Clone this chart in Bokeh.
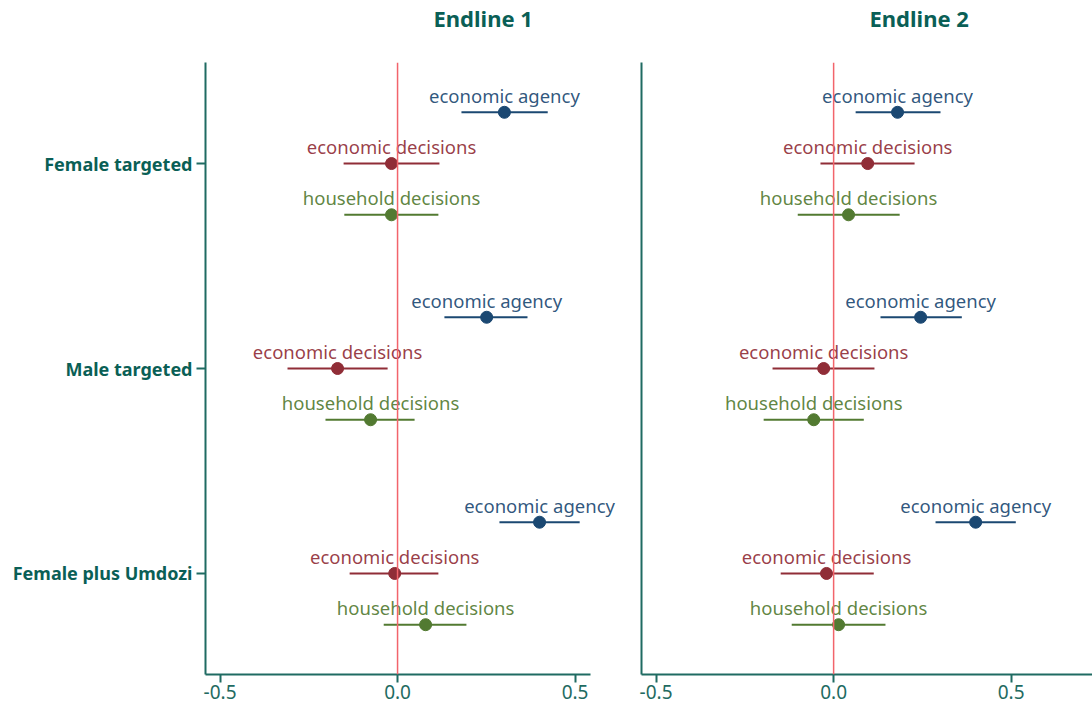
from bokeh.plotting import figure
from bokeh.layouts import row
from bokeh.models import Span, FixedTicker, ColumnDataSource, Title
from bokeh.core.properties import value
from bokeh.embed import file_html
from bokeh.resources import INLINE

panels = ["Endline 1", "Endline 2"]
groups = ["Female targeted", "Male targeted", "Female plus Umdozi"]
outcomes = ["economic agency", "economic decisions", "household decisions"]
colors = ["#1b4872", "#902d37", "#527a31"]

# point estimates [group][outcome]
est_e1 = [[0.301, -0.017, -0.017], [0.251, -0.169, -0.076], [0.400, -0.008, 0.079]]
lo_e1 = [[0.180, -0.152, -0.150], [0.132, -0.310, -0.203], [0.287, -0.135, -0.039]]
hi_e1 = [[0.423, 0.118, 0.115], [0.366, -0.028, 0.048], [0.513, 0.115, 0.194]]

est_e2 = [[0.180, 0.096, 0.042], [0.245, -0.028, -0.056], [0.400, -0.020, 0.014]]
lo_e2 = [[0.062, -0.037, -0.101], [0.132, -0.172, -0.197], [0.287, -0.149, -0.118]]
hi_e2 = [[0.301, 0.228, 0.186], [0.361, 0.115, 0.085], [0.513, 0.113, 0.146]]

xticks = [-0.5, 0.0, 0.5]
xtick_labels = ["-0.5", "0.0", "0.5"]

TEAL = "#0a5f56"
AXIS = "#1f6b62"
FONT = "Noto Sans"

group_pos = [3, 2, 1]
offsets = [0.25, 0.0, -0.25]

X_START = -0.541


def make(title, est, lo, hi, first, width, x_end, axis_end, mbl, mbr):
    p = figure(width=width, height=710, output_backend="svg", toolbar_location=None,
               x_range=(X_START, x_end), y_range=(0.507, 3.493), title=None,
               min_border_left=mbl, min_border_right=mbr, min_border_top=62,
               min_border_bottom=36)
    p.outline_line_color = None
    p.grid.visible = False
    p.background_fill_color = "white"
    p.border_fill_color = "white"

    spacer = Title(text=" ", text_font=FONT, text_font_size="10px", standoff=14,
                   text_color="white")
    p.add_layout(spacer, "above")
    t = Title(text=title, align="left", offset=228, text_font=FONT, text_font_size="22px",
              text_font_style="bold", text_color=TEAL, standoff=0)
    p.add_layout(t, "above")

    p.add_layout(Span(location=0, dimension="height", line_color="#f2646b", line_width=1.5))

    for k, oc in enumerate(outcomes):
        ys = [group_pos[g] + offsets[k] for g in range(3)]
        src = ColumnDataSource(dict(
            y=ys,
            est=[est[g][k] for g in range(3)],
            lo=[lo[g][k] for g in range(3)],
            hi=[hi[g][k] for g in range(3)],
            lab=[oc] * 3,
        ))
        p.segment(x0="lo", y0="y", x1="hi", y1="y", source=src, line_color=colors[k], line_width=2)
        p.scatter(x="est", y="y", source=src, size=12, fill_color=colors[k], line_color=colors[k])
        p.text(x="est", y="y", text="lab", source=src, text_align="center",
               text_baseline="alphabetic", y_offset=-17, text_color=colors[k],
               text_alpha=0.92, text_font=value(FONT), text_font_size="18.5px")

    p.xaxis.ticker = FixedTicker(ticks=xticks)
    p.xaxis.bounds = (X_START, axis_end)
    p.xaxis.major_label_overrides = {t_: l for t_, l in zip(xticks, xtick_labels)}
    p.xaxis.minor_tick_line_color = None
    p.xaxis.major_tick_out = 8
    p.xaxis.major_tick_in = 0
    p.xaxis.axis_line_color = AXIS
    p.xaxis.axis_line_width = 2
    p.xaxis.major_tick_line_color = AXIS
    p.xaxis.major_tick_line_width = 2
    p.xaxis.major_label_text_color = AXIS
    p.xaxis.major_label_text_font = FONT
    p.xaxis.major_label_text_font_size = "19px"
    p.xaxis.major_label_standoff = 2

    p.yaxis.ticker = FixedTicker(ticks=group_pos)
    p.yaxis.minor_tick_line_color = None
    p.yaxis.axis_line_color = AXIS
    p.yaxis.axis_line_width = 2
    p.yaxis.major_tick_in = 0
    if first:
        p.yaxis.major_label_overrides = {gp: g for gp, g in zip(group_pos, groups)}
        p.yaxis.major_tick_out = 9
        p.yaxis.major_tick_line_color = AXIS
        p.yaxis.major_tick_line_width = 2
        p.yaxis.major_label_text_color = TEAL
        p.yaxis.major_label_text_font = FONT
        p.yaxis.major_label_text_font_style = "bold"
        p.yaxis.major_label_text_font_size = "18px"
        p.yaxis.major_label_standoff = 4
    else:
        p.yaxis.major_tick_out = 0
        p.yaxis.major_tick_line_color = None
        p.yaxis.major_label_text_font_size = "0px"
        p.yaxis.major_label_overrides = {gp: "" for gp in group_pos}
    return p


# left panel: frame 205..620 px, axis line drawn only to 0.544 (590 px)
p1 = make(panels[0], est_e1, lo_e1, hi_e1, True, 626, 0.628, 0.544, 205, 6)
p2 = make(panels[1], est_e2, lo_e2, hi_e2, False, 466, 0.729, 0.729, 15, 0)

layout = row(p1, p2, spacing=0)
open("out.html", "w").write(file_html(layout, INLINE))
